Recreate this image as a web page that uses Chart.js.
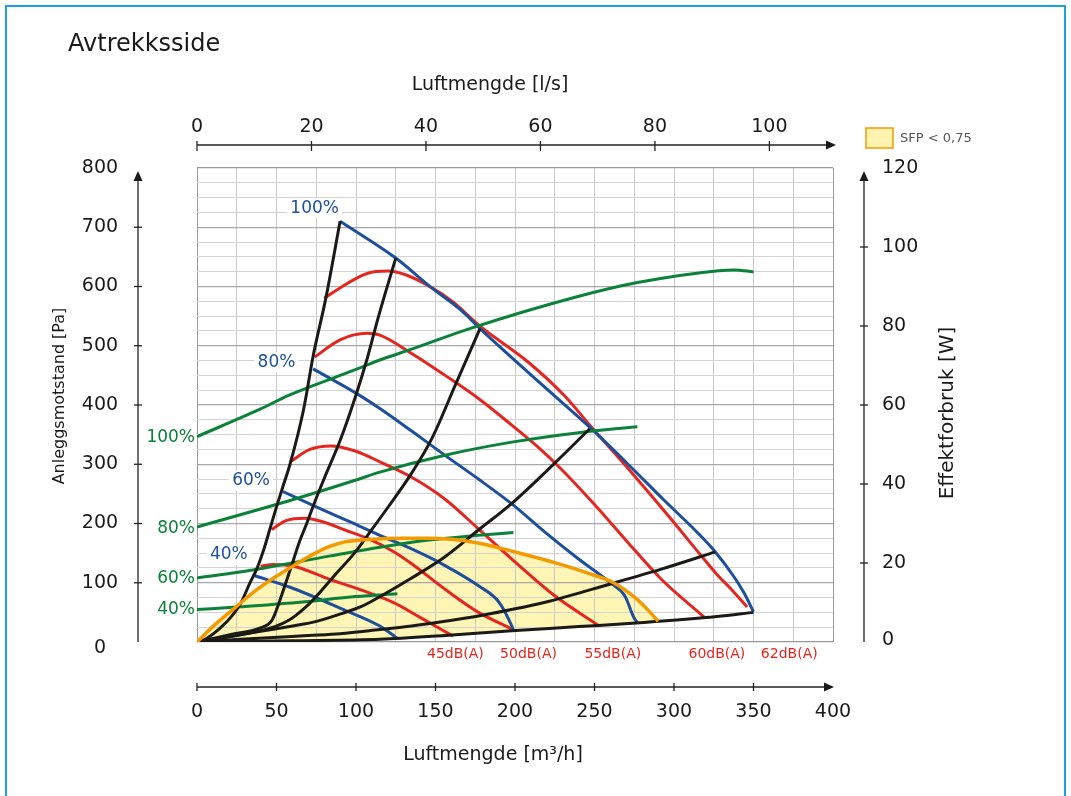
<!DOCTYPE html>
<html>
<head>
<meta charset="utf-8">
<script src="https://cdn.jsdelivr.net/npm/chart.js@4.4.0/dist/chart.umd.min.js"></script>
<style>
html,body{margin:0;padding:0;background:#fff;}
canvas{display:block;}
</style>
</head>
<body>
<canvas id="myChart" width="1071" height="796"></canvas>
<script>
// Luftmengde [m3/h] x Anleggsmotstand [Pa]
const fluxoTicks = [0, 50, 100, 150, 200, 250, 300, 350, 400]
const fluxoLsTicks = [0, 20, 40, 60, 80, 100]
const pressaoTicks = [0, 100, 200, 300, 400, 500, 600, 700, 800]
const potenciaTicks = [0, 20, 40, 60, 80, 100, 120]

// viftekurver (blå) [m3/h, Pa]
const azul100 = [[90,710],[125,648],[147,599],[166,560],[178,529],[215,439],[248,360],[273,295],[293.5,240],[315,184],[326,152],[337.5,111],[344,83],[350,51]]
const azul80 = [[73,461],[100,420],[115,394],[135,356],[156,315],[177,275],[198,233],[219,185],[240,140],[260,100],[269,78],[275,40],[277,33]]
const azul60 = [[54,254],[75,228],[96,203],[115,180],[135,157],[156,129],[177,95],[190,67],[198,27],[199,20]]
const azul40 = [[35,113],[59,92],[91,56],[115,27],[120,18],[126,6]]

// lydnivå (rød) [m3/h, Pa]
const vermelho62 = [[80,580],[95,606],[107,622],[120,626],[132,619],[147,599],[161,574],[178,533],[208,473],[231,416],[248,363],[273,287],[298,208],[317,146],[327,114],[336,89],[346,59]]
const vermelho60 = [[74,481],[90,510],[107,521],[115,518],[135,487],[156,450],[177,411],[198,366],[214,330],[229,292],[250,232],[271,168],[292,106],[319,42]]
const vermelho55 = [[58.5,304],[71,325],[84,331],[100,322],[115,304],[135,278],[156,241],[177,191],[198,140],[225,78],[253,27]]
const vermelho50 = [[47,190],[56,205],[68,209],[79,203],[93,189],[108,174],[124,152],[135,132],[156,89],[177,50],[199,21]]
const vermelho45 = [[40,128],[48,131],[62,127],[83,106],[103,88],[124,66],[140,42],[161,10]]

// anleggskurver (svart) [m3/h, Pa]
const preto1 = [[0,0],[6,6],[14,22],[22,44],[28,68],[33,98],[38,126],[42,156],[46,192],[50,228],[54,262],[58.5,300],[67,392],[73,482],[81,580],[90,710]]
const preto2 = [[0,0],[20,12],[39,23],[47,36],[50.5,58],[54.6,90],[60,133],[64,166],[69,200],[74,236],[80,276],[90,340],[100,417],[107,478],[114,548],[125,648]]
const preto3 = [[0,0],[12,5],[33,15],[49,26],[58,37],[68,58],[74,74],[87,114],[99,150],[110,190],[120,227],[135,285],[148,345],[162.5,434],[178,529]]
const preto4 = [[0,0],[24,11],[49,22],[62,28],[74,34],[91,48],[103.5,60],[116,78],[135,108],[156,144],[177,189],[198,234],[225,302],[247,360]]
const preto5 = [[0,0],[30,5],[70,11],[90,14],[115,21],[135,27],[156,35],[177,44],[219,67],[260,98],[292,123],[326,152]]
const preto6 = [[0,0],[60,2],[115,4.5],[156,11],[198,19],[240,26],[281,33],[327,43],[350,50]]

// SFP < 0,75 grense (oransje) [m3/h, Pa]
const laranjaSfp = [[0,0],[12,31],[24.4,59],[37,87],[49.4,110],[62,131],[74.4,150],[83,161],[93,169],[108,173],[130,175],[146,175],[175,168],[200,152],[225,134],[245,117],[262,100],[275,76],[284,53],[290,35]]

// effektforbruk (grønn) [m3/h, W]
const verde100 = [[0,52],[40,59],[58,62.5],[100,69],[115,71.4],[134,74],[172,79.4],[239,87.4],[277,91],[328,94],[338,94.2],[350,93.7]]
const verde80 = [[0,29.1],[60,36],[100,41],[115,43],[156,47.3],[198,50.6],[240,53],[277,54.5]]
const verde60 = [[0,16.2],[27,17.7],[84,21.8],[115,24],[146,25.8],[177,27],[199,27.7]]
const verde40 = [[0,8.2],[27,8.9],[63,10],[100,11.5],[126,12.2]]

// tekster
const rotulosAzul = ['100%', '80%', '60%', '40%']
const rotulosVerde = ['100%', '80%', '60%', '40%']
const rotulosDb = ['45dB(A)', '50dB(A)', '55dB(A)', '60dB(A)', '62dB(A)']

const corAzul = '#1d4f9c'
const corVermelho = '#e3261f'
const corVerde = '#0b8139'
const corPreto = '#1b1a17'
const corLaranja = '#f39a00'
const fonte = '"DejaVu Sans", sans-serif'

function pontos(lista){
  return lista.map(p => ({x: p[0], y: p[1]}))
}

function linha(lista, cor, ordem, eixoY){
  return {
    data: pontos(lista),
    borderColor: cor,
    borderWidth: 3,
    pointRadius: 0,
    fill: false,
    cubicInterpolationMode: 'monotone',
    order: ordem,
    yAxisID: eixoY || 'y'
  }
}

// 0 = SFP-grense, fylles ned til 1 (nederste anleggskurve)
const sfp = linha(laranjaSfp, corLaranja, 0)
sfp.borderWidth = 3.5
sfp.fill = {target: 1}
sfp.backgroundColor = '#fff5b5'

const datasets = [
  sfp,
  linha(preto6, corPreto, 1),
  linha(preto5, corPreto, 1),
  linha(preto4, corPreto, 1),
  linha(preto3, corPreto, 1),
  linha(preto2, corPreto, 1),
  linha(preto1, corPreto, 1),
  linha(azul100, corAzul, 3),
  linha(azul80, corAzul, 3),
  linha(azul60, corAzul, 3),
  linha(azul40, corAzul, 3),
  linha(vermelho62, corVermelho, 4),
  linha(vermelho60, corVermelho, 4),
  linha(vermelho55, corVermelho, 4),
  linha(vermelho50, corVermelho, 4),
  linha(vermelho45, corVermelho, 4),
  linha(verde100, corVerde, 2, 'y2'),
  linha(verde80, corVerde, 2, 'y2'),
  linha(verde60, corVerde, 2, 'y2'),
  linha(verde40, corVerde, 2, 'y2')
]

function seta(c, x, y, dir){
  c.beginPath()
  if (dir === 'up') { c.moveTo(x, y); c.lineTo(x - 4.5, y + 10); c.lineTo(x + 4.5, y + 10) }
  else { c.moveTo(x, y); c.lineTo(x - 10, y - 4.5); c.lineTo(x - 10, y + 4.5) }
  c.closePath()
  c.fill()
}

const eixos = {
  id: 'eixos',
  afterDraw(chart){
    const c = chart.ctx
    const sx = chart.scales.x, sy = chart.scales.y, sx2 = chart.scales.x2, sy2 = chart.scales.y2
    const a = chart.chartArea
    c.save()

    // ramme
    c.strokeStyle = '#1ba1e2'
    c.lineWidth = 2
    c.beginPath(); c.moveTo(6, 800); c.lineTo(6, 6); c.lineTo(1065, 6); c.lineTo(1065, 800); c.stroke()

    c.fillStyle = '#1a1a1a'
    c.font = '24px ' + fonte
    c.textAlign = 'left'; c.textBaseline = 'middle'
    c.fillText('Avtrekksside', 68, 45)

    c.strokeStyle = '#222'; c.lineWidth = 1.3
    // bunnakse
    const yb = 687
    c.beginPath(); c.moveTo(a.left, yb); c.lineTo(826, yb); c.stroke()
    seta(c, 834, yb, 'right')
    c.font = '19px ' + fonte; c.textAlign = 'center'
    fluxoTicks.forEach(v => {
      const x = sx.getPixelForValue(v)
      if (v < 400) { c.beginPath(); c.moveTo(x, yb - 4); c.lineTo(x, yb + 4); c.stroke() }
      c.fillText(String(v), x, 712)
    })
    c.fillText('Luftmengde [m³/h]', 493, 755)

    // toppakse
    const yt = 145
    c.beginPath(); c.moveTo(a.left, yt); c.lineTo(828, yt); c.stroke()
    seta(c, 836, yt, 'right')
    fluxoLsTicks.forEach(v => {
      const x = sx2.getPixelForValue(v)
      c.beginPath(); c.moveTo(x, yt - 4); c.lineTo(x, yt + 6); c.stroke()
      c.fillText(String(v), x, 127)
    })
    c.fillText('Luftmengde [l/s]', 490, 85)

    // venstre akse
    const xl = 138
    c.beginPath(); c.moveTo(xl, a.bottom); c.lineTo(xl, 180); c.stroke()
    seta(c, xl, 171, 'up')
    pressaoTicks.forEach(v => {
      const y = sy.getPixelForValue(v)
      if (v > 0 && v < 800) { c.beginPath(); c.moveTo(xl - 4, y); c.lineTo(xl + 4, y); c.stroke() }
      c.fillText(String(v), 100, v === 0 ? y + 6 : y)
    })
    c.save()
    c.translate(60, 396); c.rotate(-Math.PI / 2)
    c.font = '16px ' + fonte
    c.fillText('Anleggsmotstand [Pa]', 0, 0)
    c.restore()

    // høyre akse
    const xr = 864
    c.beginPath(); c.moveTo(xr, a.bottom); c.lineTo(xr, 180); c.stroke()
    seta(c, xr, 171, 'up')
    c.textAlign = 'left'
    potenciaTicks.forEach(v => {
      const y = sy2.getPixelForValue(v)
      if (v > 0 && v < 120) { c.beginPath(); c.moveTo(xr - 4, y); c.lineTo(xr + 4, y); c.stroke() }
      c.fillText(String(v), 882, v === 0 ? y - 2 : y)
    })
    c.save()
    c.translate(948, 413); c.rotate(-Math.PI / 2)
    c.font = '20px ' + fonte; c.textAlign = 'center'
    c.fillText('Effektforbruk [W]', 0, 0)
    c.restore()

    // forklaring
    c.fillStyle = '#fff3b0'
    c.fillRect(866, 128, 27, 20)
    c.strokeStyle = corLaranja; c.lineWidth = 1.5
    c.strokeRect(866, 128, 27, 20)
    c.fillStyle = '#555'
    c.font = '13px ' + fonte; c.textAlign = 'left'
    c.fillText('SFP < 0,75', 900, 139)

    // prosent (blå)
    const posAzul = [[74, 732], [50, 472], [34, 272], [20, 147]]
    c.font = '17px ' + fonte; c.textAlign = 'center'
    rotulosAzul.forEach((t, i) => {
      const x = sx.getPixelForValue(posAzul[i][0]), y = sy.getPixelForValue(posAzul[i][1])
      const w = c.measureText(t).width
      c.fillStyle = '#fff'
      c.fillRect(x - w / 2 - 3, y - 10, w + 6, 20)
      c.fillStyle = corAzul
      c.fillText(t, x, y)
    })
    // prosent (grønn)
    const posVerde = [52, 29, 16.2, 8.4]
    c.textAlign = 'right'; c.fillStyle = corVerde
    rotulosVerde.forEach((t, i) => {
      c.fillText(t, 195, sy2.getPixelForValue(posVerde[i]) + 1)
    })
    // dB(A)
    const posDb = [162.5, 208.5, 261.5, 327, 372.5]
    c.font = '14px ' + fonte; c.textAlign = 'center'; c.fillStyle = corVermelho
    rotulosDb.forEach((t, i) => {
      c.fillText(t, sx.getPixelForValue(posDb[i]), 654)
    })
    c.restore()
  }
}

const ctx = document.getElementById("myChart")

const config = {
  type: 'line',
  data: { datasets: datasets },
  options: {
    responsive: false,
    animation: false,
    layout: { padding: { left: 197, right: 238, top: 168, bottom: 154 } },
    plugins: {
      legend: { display: false },
      tooltip: { enabled: false },
      filler: { drawTime: 'beforeDraw' }
    },
    scales: {
      x: {
        type: 'linear', min: 0, max: 400,
        ticks: { display: false, stepSize: 25 },
        border: { display: false },
        grid: {
          drawTicks: false,
          lineWidth: 1,
          color: c => (c.tick.value === 0 || c.tick.value === 400) ? '#999' : '#c9c9c9'
        }
      },
      y: {
        type: 'linear', min: 0, max: 800,
        ticks: { display: false, stepSize: 25 },
        border: { display: false },
        grid: {
          drawTicks: false,
          lineWidth: c => c.tick.value % 100 === 0 ? 1.3 : 1,
          color: c => (c.tick.value === 0 || c.tick.value === 800) ? '#999' : (c.tick.value % 100 === 0 ? '#a8a8a8' : '#d4d4d4')
        }
      },
      x2: { type: 'linear', display: false, min: 0, max: 400 / 3.6, position: 'top' },
      y2: { type: 'linear', display: false, min: 0, max: 120, position: 'right' }
    }
  },
  plugins: [eixos]
}

const myChart = new Chart(ctx, config)
</script>
</body>
</html>
